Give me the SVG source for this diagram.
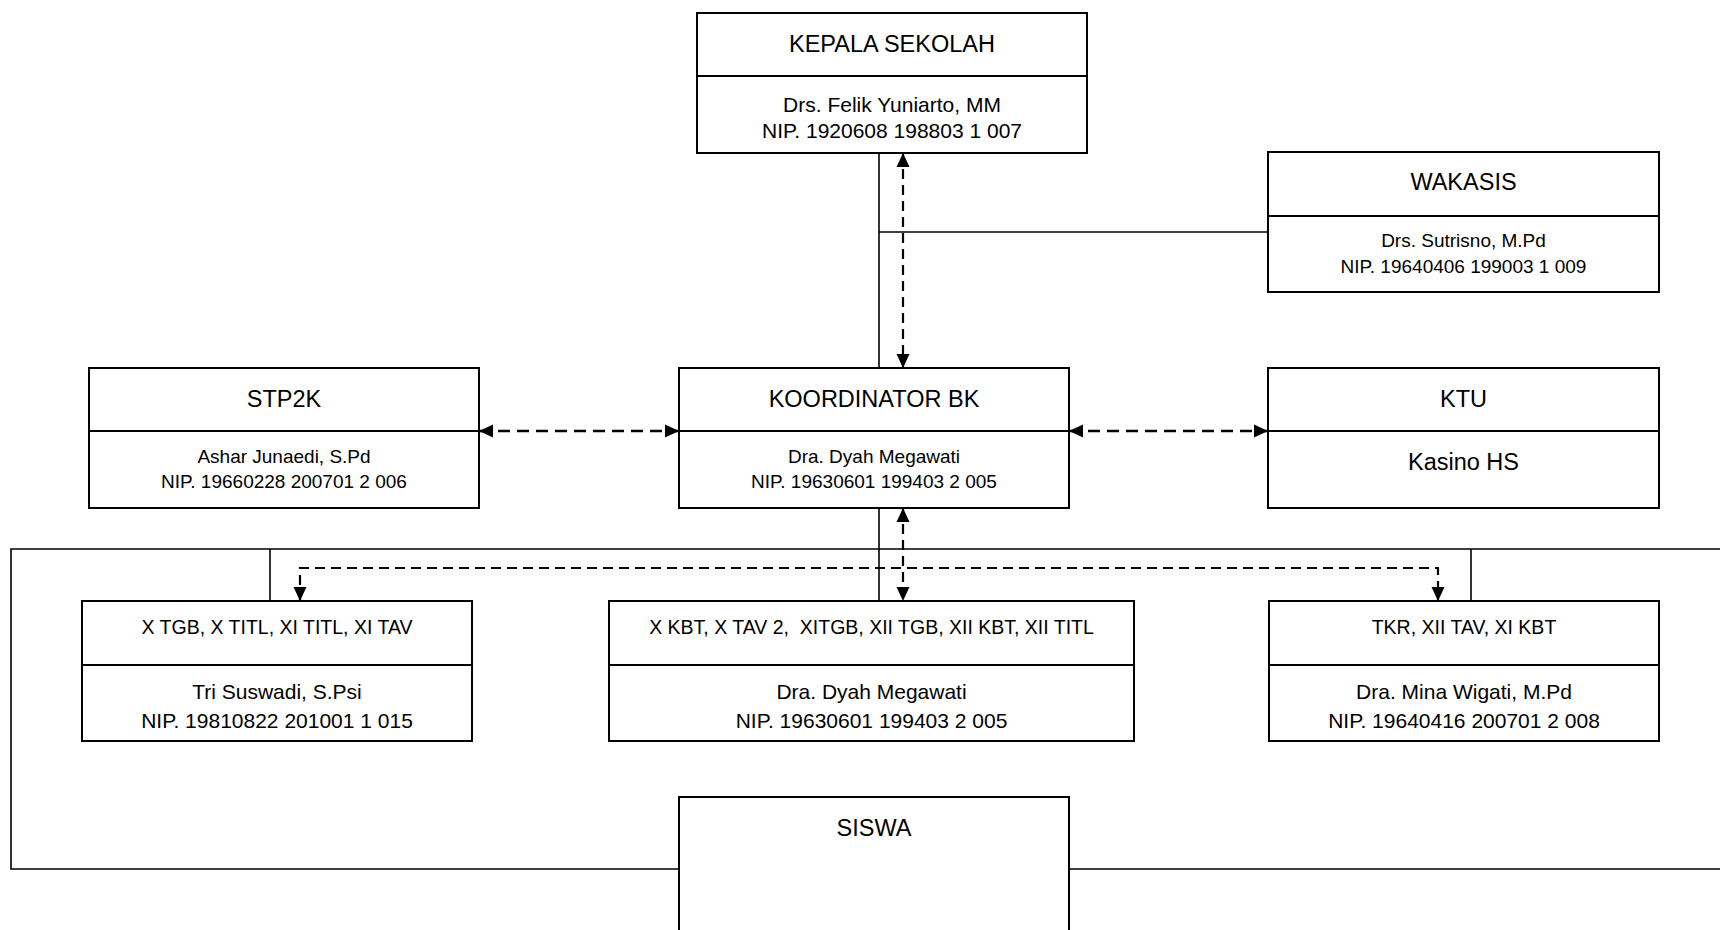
<svg xmlns="http://www.w3.org/2000/svg" width="1720" height="930" viewBox="0 0 1720 930">
  <style>
    .box { fill: #ffffff; stroke: #000000; stroke-width: 2; }
    .div { stroke: #000000; stroke-width: 2; }
    .solid { fill: none; stroke: #000000; stroke-width: 1.6; }
    .dash { fill: none; stroke: #000000; stroke-width: 2.2; stroke-dasharray: 10 6; }
    .dash-h { fill: none; stroke: #000000; stroke-width: 2.6; stroke-dasharray: 12 7; }
    text { font-family: "Liberation Sans", Arial, sans-serif; fill: #000000; text-anchor: middle; }
    .t { font-size: 23.5px; }
    .n { font-size: 19px; }
    .nl { font-size: 21px; }
    .c { font-size: 19.5px; white-space: pre; }
  </style>
  <defs>
    <marker id="head" viewBox="0 0 14 14" refX="14" refY="7" markerWidth="14" markerHeight="14" markerUnits="userSpaceOnUse" orient="auto-start-reverse">
      <path d="M0,0.5 L14,7 L0,13.5 z" fill="#000000"/>
    </marker>
  </defs>

  <rect width="1720" height="930" fill="#ffffff"/>

  <!-- connectors -->
  <g id="connectors">
    <!-- solid reporting lines -->
    <path class="solid" d="M879,153 V368"/>
    <path class="solid" d="M879,232 H1268"/>
    <path class="solid" d="M879,508 V601"/>
    <path class="solid" d="M1724,549 H11 V869 H1724"/>
    <path class="solid" d="M270,549 V601"/>
    <path class="solid" d="M1471,549 V601"/>
    <!-- dashed coordination lines -->
    <path class="dash" d="M903,153 V368" marker-start="url(#head)" marker-end="url(#head)"/>
    <path class="dash-h" d="M479,431 H679" marker-start="url(#head)" marker-end="url(#head)"/>
    <path class="dash-h" d="M1069,431 H1268" marker-start="url(#head)" marker-end="url(#head)"/>
    <path class="dash" d="M903,508 V601" marker-start="url(#head)" marker-end="url(#head)"/>
    <path class="dash" d="M300,601 V568 H1438 V601" marker-start="url(#head)" marker-end="url(#head)"/>
  </g>

  <g id="kepala-sekolah">
    <rect class="box" x="697" y="13" width="390" height="140"/>
    <line class="div" x1="697" y1="76" x2="1087" y2="76"/>
    <text class="t" x="892" y="52">KEPALA SEKOLAH</text>
    <text class="nl" x="892" y="112">Drs. Felik Yuniarto, MM</text>
    <text class="nl" x="892" y="138">NIP. 1920608 198803 1 007</text>
  </g>

  <g id="wakasis">
    <rect class="box" x="1268" y="152" width="391" height="140"/>
    <line class="div" x1="1268" y1="216" x2="1659" y2="216"/>
    <text class="t" x="1463.5" y="190">WAKASIS</text>
    <text class="n" x="1463.5" y="246.5">Drs. Sutrisno, M.Pd</text>
    <text class="n" x="1463.5" y="273">NIP. 19640406 199003 1 009</text>
  </g>

  <g id="stp2k">
    <rect class="box" x="89" y="368" width="390" height="140"/>
    <line class="div" x1="89" y1="431" x2="479" y2="431"/>
    <text class="t" x="284" y="406.5">STP2K</text>
    <text class="n" x="284" y="462.5">Ashar Junaedi, S.Pd</text>
    <text class="n" x="284" y="488">NIP. 19660228 200701 2 006</text>
  </g>

  <g id="koordinator-bk">
    <rect class="box" x="679" y="368" width="390" height="140"/>
    <line class="div" x1="679" y1="431" x2="1069" y2="431"/>
    <text class="t" x="874" y="406.5">KOORDINATOR BK</text>
    <text class="n" x="874" y="462.5">Dra. Dyah Megawati</text>
    <text class="n" x="874" y="488">NIP. 19630601 199403 2 005</text>
  </g>

  <g id="ktu">
    <rect class="box" x="1268" y="368" width="391" height="140"/>
    <line class="div" x1="1268" y1="431" x2="1659" y2="431"/>
    <text class="t" x="1463.5" y="406.5">KTU</text>
    <text class="t" x="1463.5" y="470">Kasino HS</text>
  </g>

  <g id="guru-bk-1">
    <rect class="box" x="82" y="601" width="390" height="140"/>
    <line class="div" x1="82" y1="665" x2="472" y2="665"/>
    <text class="c" x="277" y="634">X TGB, X TITL, XI TITL, XI TAV</text>
    <text class="nl" x="277" y="699">Tri Suswadi, S.Psi</text>
    <text class="nl" x="277" y="727.5">NIP. 19810822 201001 1 015</text>
  </g>

  <g id="guru-bk-2">
    <rect class="box" x="609" y="601" width="525" height="140"/>
    <line class="div" x1="609" y1="665" x2="1134" y2="665"/>
    <text class="c" x="871.5" y="634">X KBT, X TAV 2,  XITGB, XII TGB, XII KBT, XII TITL</text>
    <text class="nl" x="871.5" y="699">Dra. Dyah Megawati</text>
    <text class="nl" x="871.5" y="727.5">NIP. 19630601 199403 2 005</text>
  </g>

  <g id="guru-bk-3">
    <rect class="box" x="1269" y="601" width="390" height="140"/>
    <line class="div" x1="1269" y1="665" x2="1659" y2="665"/>
    <text class="c" x="1464" y="634">TKR, XII TAV, XI KBT</text>
    <text class="nl" x="1464" y="699">Dra. Mina Wigati, M.Pd</text>
    <text class="nl" x="1464" y="727.5">NIP. 19640416 200701 2 008</text>
  </g>

  <g id="siswa">
    <rect class="box" x="679" y="797" width="390" height="160"/>
    <text class="t" x="874" y="836">SISWA</text>
  </g>
</svg>
